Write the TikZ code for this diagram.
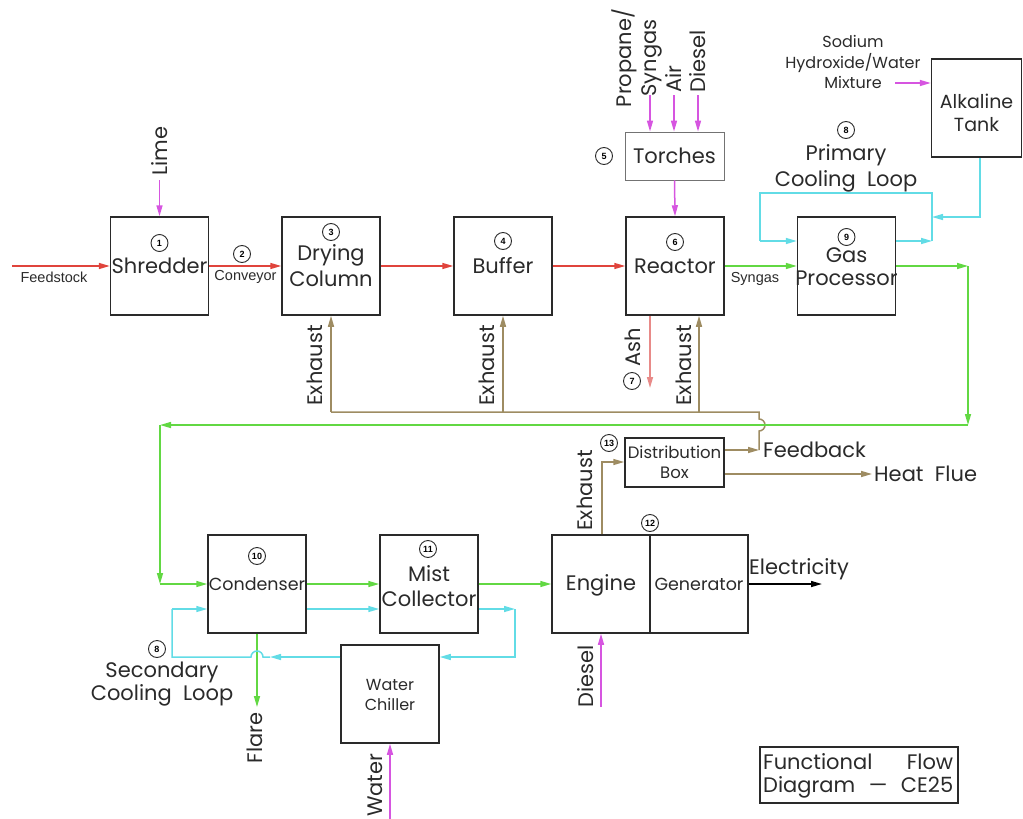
\documentclass[tikz,border=0pt]{standalone}
\usepackage{fontspec}
\setmainfont{Poppins}
\newfontfamily\smallfont{Liberation Sans}
\usetikzlibrary{arrows.meta,calc}
\definecolor{cred}{HTML}{E0443C}
\definecolor{cgreen}{HTML}{62D843}
\definecolor{ccyan}{HTML}{62DCE6}
\definecolor{cmag}{HTML}{D655E0}
\definecolor{ctan}{HTML}{9E8C62}
\definecolor{cash}{HTML}{E88A88}
\definecolor{cbox}{HTML}{2A2A2A}
\tikzset{
  box/.style={draw=cbox, line width=1.5pt, minimum width=98pt, minimum height=98pt, inner sep=0},
  pipe/.style={line width=1.5pt},
  flow/.style={line width=1.5pt, -{Triangle[length=11pt,width=6pt]}},
  num/.style={circle, draw=cbox, line width=0.9pt, minimum size=17pt, inner sep=0, font=\smallfont\bfseries\fontsize{9}{9}\selectfont},
  big/.style={font=\fontsize{21}{26}\selectfont, align=center, inner sep=0, text=cbox},
  mid/.style={font=\fontsize{17.5}{21}\selectfont, align=center, inner sep=0, text=cbox},
  sml/.style={font=\smallfont\fontsize{14.5}{15}\selectfont, inner sep=0, text=cbox},
}
\begin{document}
\begin{tikzpicture}[x=1pt,y=-1pt]
\useasboundingbox (0,0) rectangle (1023,819);
% boxes
\node[box] (shred) at (159.5,266) {};
\node[box] (dry) at (331,266) {};
\node[box] (buf) at (503,266) {};
\node[box] (reac) at (675,266) {};
\node[box] (gas) at (846.5,266) {};
\node[box, minimum width=90pt] (alk) at (976.5,108) {};
\node[draw=black!55, line width=0.9pt, minimum width=99pt, minimum height=48pt, inner sep=0] (torch) at (674.5,156) {};
\node[box, minimum width=99pt, minimum height=49pt] (dist) at (674.5,462.5) {};
\node[box] (cond) at (257,584) {};
\node[box] (mist) at (429,584) {};
\node[box] (eng) at (601,584) {};
\node[box] (gen) at (699,584) {};
\node[box] (chill) at (390,694) {};
\node[draw=cbox, line width=1.8pt, minimum width=198pt, minimum height=56pt, inner sep=0] (legend) at (859,775) {};
% box texts
\node[num] (n1) at (159.5,243) {1};
\node[big] (t1) at (159.5,266) {Shredder};
\node[num] (n2) at (242,254) {2};
\node[sml] (conv) at (245.5,277) {Conveyor};
\node[num] (n3) at (331,232) {3};
\node[big] (t3) at (331,266) {Drying\\Column};
\node[num] (n4) at (503,241) {4};
\node[big] (t4) at (503,266) {Buffer};
\node[num] (n6) at (675,242) {6};
\node[big] (t6) at (675,266) {Reactor};
\node[num] (n9) at (846.5,237) {9};
\node[big, font=\fontsize{21}{23}\selectfont] (t9) at (846.5,267) {Gas\\Processor};
\node[mid, font=\fontsize{19}{23}\selectfont] (talk) at (976.5,113) {Alkaline\\Tank};
\node[big] (t5) at (674.5,156) {Torches};
\node[num] (n5) at (604,156) {5};
\node[mid, font=\fontsize{16.5}{20}\selectfont] (t13) at (674.5,462) {Distribution\\Box};
\node[num] (n13) at (609,443) {13};
\node[num] (n10) at (257,556) {10};
\node[mid] (t10) at (257,584) {Condenser};
\node[num] (n11) at (428,549) {11};
\node[big, font=\fontsize{21}{25}\selectfont] (t11) at (429,586) {Mist\\Collector};
\node[big] (t12a) at (601,585) {Engine};
\node[mid] (t12b) at (699,584) {Generator};
\node[num] (n12) at (650,523) {12};
\node[mid, font=\fontsize{16}{20}\selectfont] (tch) at (390,695) {Water\\Chiller};
\node[big, anchor=west, text width=190pt, align=left] (lg1) at (763,762) {Functional\hfill Flow};
\node[big, anchor=west, text width=190pt, align=left] (lg2) at (763,787) {Diagram\hfill —\hfill CE25};
% top row flow
\coordinate (feedin) at (12,266);
\draw[flow,cred] (feedin) -- (shred.west);
\node[sml] (feedl) at (54,277) {Feedstock};
\draw[flow,cred] (shred.east) -- (dry.west);
\draw[flow,cred] (dry.east) -- (buf.west);
\draw[flow,cred] (buf.east) -- (reac.west);
\draw[flow,cgreen] (reac.east) -- (gas.west);
\node[sml] (syng) at (755,279) {Syngas};
% lime
\coordinate (limein) at (159.5,180);
\draw[flow,cmag] (limein) -- (shred.north);
\node[big, rotate=90, anchor=west] (limel) at (159.5,176) {Lime};
% torches
\coordinate (tp) at (650,95);
\coordinate (ta) at (674,95);
\coordinate (td) at (698,95);
\draw[flow,cmag] (tp) -- (tp |- torch.north);
\draw[flow,cmag] (ta) -- (ta |- torch.north);
\draw[flow,cmag] (td) -- (td |- torch.north);
\node[big, rotate=90, font=\fontsize{21}{25}\selectfont] (propl) at (637,58) {Propane/\\Syngas};
\node[big, rotate=90, anchor=west] (airl) at (674,93) {Air};
\node[big, rotate=90, anchor=west] (diesl) at (698,93) {Diesel};
\draw[flow,cmag] (torch.south) -- (reac.north);
% ash
\coordinate (ashend) at (650,388);
\draw[flow,cash] (reac.south -| ashend) -- (ashend);
\node[big, rotate=90, anchor=east] (ashl) at (633,328) {Ash};
\node[num] (n7) at (632,381) {7};
% exhaust bus
\coordinate (bus1) at (331,412);
\coordinate (bus2) at (503,412);
\coordinate (bus3) at (699,412);
\coordinate (busR) at (759,412);
\coordinate (fbk) at (759,450);
\draw[pipe,ctan] (bus1) -- (busR) -- (759,419) arc[start angle=-90, end angle=90, radius=6] -- (fbk);
\draw[flow,ctan] (bus1) -- (dry.south);
\draw[flow,ctan] (bus2) -- (buf.south);
\draw[flow,ctan] (bus3) -- (bus3 |- reac.south);
\node[big, rotate=90, anchor=west] (ex1) at (315,406) {Exhaust};
\node[big, rotate=90, anchor=west] (ex2) at (487,406) {Exhaust};
\node[big, rotate=90, anchor=west] (ex3) at (684,406) {Exhaust};
% distribution
\draw[flow,ctan] (dist.east |- fbk) -- (fbk);
\node[big, anchor=west] (fbkl) at (763,450) {Feedback};
\coordinate (heat) at (872,474);
\draw[flow,ctan] (dist.east |- heat) -- (heat);
\node[big, anchor=west] (heatl) at (874,474) {Heat\ \ Flue};
\coordinate (ex4) at (602,462);
\draw[flow,ctan] (eng.north -| ex4) -- (ex4) -- (dist.west |- ex4);
\node[big, rotate=90, anchor=west] (ex4l) at (585,531) {Exhaust};
% green main
\coordinate (g1) at (968,266);
\coordinate (g2) at (968,425);
\coordinate (g3) at (160,425);
\coordinate (g4) at (160,584);
\draw[flow,cgreen] (gas.east) -- (g1);
\draw[flow,cgreen] (g1) -- (g2);
\draw[flow,cgreen] (g2) -- (g3);
\draw[flow,cgreen] (g3) -- (g4);
\draw[flow,cgreen] (g4) -- (cond.west);
\draw[flow,cgreen] (cond.east) -- (mist.west);
\draw[flow,cgreen] (mist.east) -- (eng.west);
\coordinate (flare) at (257,707);
\draw[flow,cgreen] (cond.south) -- (flare);
\node[big, rotate=90, anchor=east] (flarel) at (255,712) {Flare};
% secondary cooling
\draw[flow,ccyan] ([yshift=-25pt]cond.east) -- ([yshift=-25pt]mist.west);
\coordinate (c1) at (515,609);
\coordinate (c2) at (515,657);
\draw[flow,ccyan] ([yshift=-25pt]mist.east) -- (c1);
\draw[flow,ccyan] (c1) -- (c2) -- (chill.east |- c2);
\coordinate (c3) at (270,657);
\coordinate (c4) at (172,657);
\coordinate (c5) at (172,609);
\draw[flow,ccyan] (chill.west |- c2) -- (c3);
\draw[pipe,ccyan] (c3) -- (263,657) arc[start angle=0, end angle=-180, radius=6] -- (c4) -- (c5);
\draw[flow,ccyan] (c5) -- (cond.west |- c5);
\node[num] (n8b) at (157,649) {8};
\node[big, font=\fontsize{21}{23}\selectfont] (secl) at (162,684) {Secondary\\Cooling\ \ Loop};
% water / diesel / electricity
\coordinate (water) at (390,819);
\draw[flow,cmag] (water) -- (chill.south);
\node[big, rotate=90, anchor=west] (waterl) at (375,817) {Water};
\coordinate (dsl) at (601,707);
\draw[flow,cmag] (dsl) -- (eng.south);
\node[big, rotate=90, anchor=west] (dsll) at (586,708) {Diesel};
\coordinate (elec) at (822,584);
\draw[flow,black] (gen.east) -- (elec);
\node[big, anchor=south west] (elecl) at (749,580) {Electricity};
% alkaline / primary loop
\coordinate (mixin) at (895,83);
\draw[flow,cmag] (mixin) -- (alk.west |- mixin);
\node[mid, font=\fontsize{16}{20.5}\selectfont] (sodl) at (853,62) {Sodium\\Hydroxide/Water\\Mixture};
\coordinate (k1) at (980,217);
\coordinate (k2) at (932,217);
\draw[flow,ccyan] (alk.south -| k1) -- (k1) -- (k2);
\coordinate (p1) at (932,241);
\coordinate (p2) at (932,193);
\coordinate (p3) at (760,193);
\coordinate (p4) at (760,241);
\draw[flow,ccyan] ([yshift=25pt]gas.east) -- (p1);
\draw[pipe,ccyan] (p1) -- (p2) -- (p3) -- (p4);
\draw[flow,ccyan] (p4) -- (gas.west |- p4);
\node[num] (n8a) at (846,130) {8};
\node[big] (priml) at (846,168) {Primary\\Cooling\ \ Loop};
\end{tikzpicture}
\end{document}
